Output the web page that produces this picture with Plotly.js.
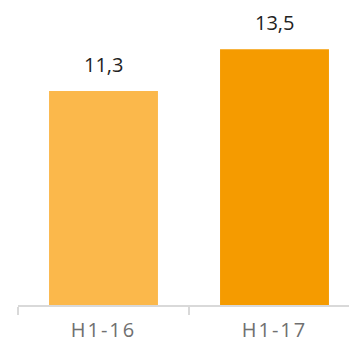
<!DOCTYPE html>
<html>
<head>
<meta charset="utf-8">
<script src="https://cdn.plot.ly/plotly-3.0.1.min.js"></script>
<style>
html,body{margin:0;padding:0;overflow:hidden;background:#fff;}
#chart{width:380px;height:341px;}
.xtick text{letter-spacing:2px;}
</style>
</head>
<body>
<div id="chart"></div>
<script>
const categories = ["H1-16", "H1-17"];
const values = [11.3, 13.5];
const valueLabels = ["11,3", "13,5"];
const barColors = ["#FBB84B", "#F59B00"];

const trace = {
  type: "bar",
  x: categories,
  y: values,
  marker: {color: barColors},
  width: 0.637,
  hoverinfo: "none"
};

const annotations = categories.map((c, i) => ({
  x: c, y: values[i], text: valueLabels[i],
  showarrow: false, yanchor: "bottom", yshift: 11,
  font: {family: "Open Sans, sans-serif", size: 20, color: "#222222"}
}));

const layout = {
  width: 380, height: 341,
  margin: {l: 18, r: 20, t: 0, b: 36},
  paper_bgcolor: "#fff", plot_bgcolor: "#fff",
  showlegend: false,
  xaxis: {
    type: "category",
    showline: true, linecolor: "#d9d9d9", linewidth: 1.5,
    ticks: "outside", tickson: "boundaries", ticklen: 8, tickcolor: "#d9d9d9", tickwidth: 1.5,
    ticklabelstandoff: 6,
    tickfont: {family: "Open Sans, sans-serif", size: 20, color: "#707070"},
    showgrid: false, zeroline: false
  },
  yaxis: {
    range: [0, 16.1], visible: false, showgrid: false, zeroline: false
  },
  annotations: annotations
};

Plotly.newPlot("chart", [trace], layout, {staticPlot: true, displayModeBar: false});
</script>
</body>
</html>
